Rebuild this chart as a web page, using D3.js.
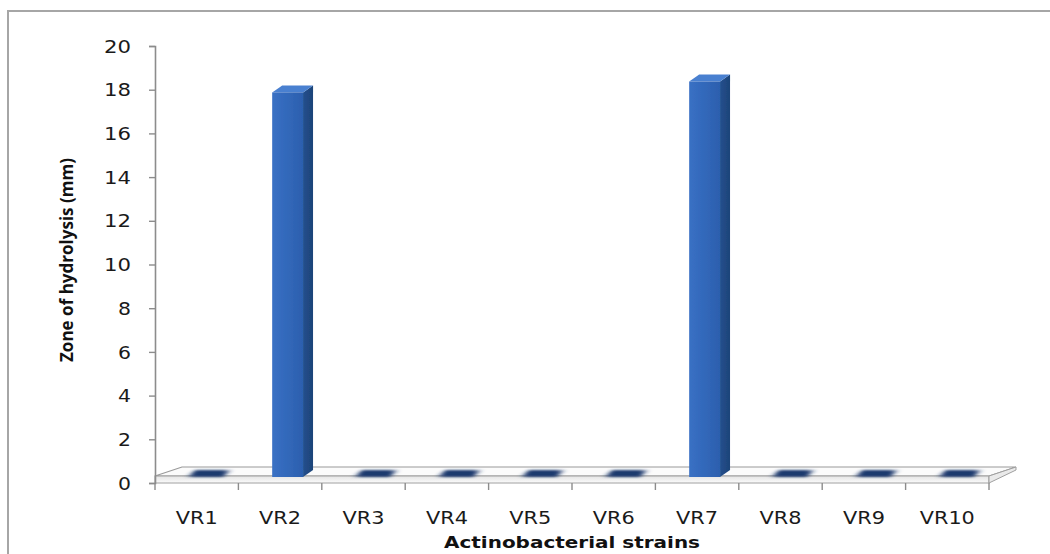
<!DOCTYPE html>
<html>
<head>
<meta charset="utf-8">
<script src="https://cdn.jsdelivr.net/npm/d3@7"></script>
<style>
  html, body { margin: 0; padding: 0; background: #fff; }
  svg { display: block; }
</style>
</head>
<body>
<svg id="chart" width="1050" height="554"></svg>
<script>
// Zone of hydrolysis per actinobacterial strain
const strains = ["VR1", "VR2", "VR3", "VR4", "VR5", "VR6", "VR7", "VR8", "VR9", "VR10"];
const zoneMm = [0, 17.6, 0, 0, 0, 0, 18.1, 0, 0, 0];
const yTicks = [0, 2, 4, 6, 8, 10, 12, 14, 16, 18, 20];

const svg = d3.select("#chart");
const W = 1050, H = 554;

// frame around the chart area
svg.append("rect")
  .attr("x", 8).attr("y", 11)
  .attr("width", W + 20).attr("height", H + 20)
  .attr("fill", "#fff").attr("stroke", "#a6a6a6").attr("stroke-width", 2);

const x = d3.scaleBand().domain(strains).range([155, 989]).padding(0);
const y = d3.scaleLinear().domain([0, 20]).range([483, 46]);

const defs = svg.append("defs");
const grad = (id, stops, x2 = "100%", y2 = "0%") => {
  const g = defs.append("linearGradient").attr("id", id)
    .attr("x1", "0%").attr("y1", "0%").attr("x2", x2).attr("y2", y2);
  stops.forEach(([o, c]) => g.append("stop").attr("offset", o).attr("stop-color", c));
};
grad("front", [["0%", "#3a70c4"], ["45%", "#3269bb"], ["100%", "#2c5fae"]]);
grad("side", [["0%", "#24508e"], ["100%", "#1d4378"]]);
grad("floorFront", [["0%", "#e4e4e4"], ["100%", "#fbfbfb"]], "0%", "100%");
grad("blob", [["0%", "rgba(31,58,110,0.1)"], ["18%", "#1f3a6e"], ["80%", "#1f3a6e"], ["100%", "rgba(31,58,110,0.1)"]]);
defs.append("filter").attr("id", "soft")
  .attr("x", "-30%").attr("y", "-80%").attr("width", "160%").attr("height", "260%")
  .append("feGaussianBlur").attr("stdDeviation", "2.6 1.1");
defs.append("filter").attr("id", "soft2")
  .append("feGaussianBlur").attr("stdDeviation", 0.5);

// floor slab
const fL = x.range()[0], fR = x.range()[1];
const floorDx = 27, floorTop = 467, floorFrontTop = 476, floorBottom = y(0);
svg.append("path")
  .attr("d", `M${fL},${floorFrontTop} L${fL + floorDx},${floorTop} L${fR + floorDx},${floorTop} L${fR},${floorFrontTop} Z`)
  .attr("fill", "#fbfbfb").attr("stroke", "#9a9a9a").attr("stroke-width", 1.2);
svg.append("path")
  .attr("d", `M${fL},${floorFrontTop} L${fR},${floorFrontTop} L${fR},${floorBottom} L${fL},${floorBottom} Z`)
  .attr("fill", "url(#floorFront)").attr("stroke", "#a0a0a0").attr("stroke-width", 1.2);
svg.append("path")
  .attr("d", `M${fR},${floorBottom} L${fR + floorDx},${floorTop + 3} L${fR + floorDx},${floorTop} L${fR},${floorFrontTop} Z`)
  .attr("fill", "#eaeaea").attr("stroke", "#a0a0a0").attr("stroke-width", 1);

// column geometry (front face plane sits slightly behind the axis)
const baseShift = 6;
const dX = 10, dY = -7;
const bx0 = d => x(d.s) + x.bandwidth() * 0.405;
const bw = x.bandwidth() * 0.37;
const data = strains.map((s, i) => ({ s, v: zoneMm[i] }));

const bars = svg.append("g");
data.forEach(d => {
  const x0 = bx0(d), x1 = x0 + bw;
  const yb = y(0) - baseShift;
  const yt = y(d.v) - baseShift;
  const g = bars.append("g");
  if (d.v > 0) {
    g.append("path").attr("filter", "url(#soft2)")
      .attr("d", `M${x1},${yb} L${x1 + dX},${yb + dY} L${x1 + dX},${yt + dY} L${x1},${yt} Z`)
      .attr("fill", "url(#side)");
    g.append("path").attr("filter", "url(#soft2)")
      .attr("d", `M${x0},${yt} L${x0 + dX},${yt + dY} L${x1 + dX},${yt + dY} L${x1},${yt} Z`)
      .attr("fill", "#4a80d0");
    g.append("rect").attr("filter", "url(#soft2)")
      .attr("x", x0).attr("y", yt).attr("width", bw).attr("height", yb - yt)
      .attr("fill", "url(#front)");
  } else {
    // zero-height column: only its flat top shows on the floor
    g.append("path").attr("filter", "url(#soft)")
      .attr("d", `M${x0 - 3},${yb} L${x0 + dX - 3},${yb + dY} L${x1 + dX + 3},${yb + dY} L${x1 + 3},${yb} Z`)
      .attr("fill", "url(#blob)");
  }
});

// value axis
const yAxis = svg.append("g").attr("transform", `translate(${fL},0)`)
  .call(d3.axisLeft(y).tickValues(yTicks).tickSize(6).tickFormat(d3.format("d")));
yAxis.select(".domain").attr("stroke", "#8c8c8c").attr("stroke-width", 1.6);
yAxis.selectAll(".tick line").attr("stroke", "#8c8c8c").attr("stroke-width", 1.4);
yAxis.selectAll(".tick text")
  .attr("x", -24).attr("dy", "0.36em")
  .attr("font-family", "'DejaVu Sans', Verdana, sans-serif")
  .attr("font-size", 17).attr("fill", "#1a1a1a")
  .attr("textLength", d => (d >= 10 ? 27 : 13)).attr("lengthAdjust", "spacingAndGlyphs");

// category axis (ticks between columns)
const xAxis = svg.append("g").attr("transform", `translate(0,${floorBottom})`);
const bounds = strains.map(s => x(s)).concat([fR]);
xAxis.selectAll("line.t").data(bounds).join("line")
  .attr("x1", d => d).attr("x2", d => d).attr("y1", 0).attr("y2", 7)
  .attr("stroke", "#8c8c8c").attr("stroke-width", 1.4);
xAxis.selectAll("text").data(strains).join("text")
  .attr("x", d => x(d) + x.bandwidth() / 2).attr("y", 41)
  .attr("text-anchor", "middle")
  .attr("font-family", "'DejaVu Sans', Verdana, sans-serif")
  .attr("font-size", 17.5).attr("fill", "#1a1a1a")
  .attr("textLength", d => (d.length > 3 ? 55 : 42)).attr("lengthAdjust", "spacingAndGlyphs")
  .text(d => d);

// axis titles
svg.append("text")
  .attr("x", (fL + fR) / 2).attr("y", 548)
  .attr("text-anchor", "middle")
  .attr("font-family", "'DejaVu Sans', Verdana, sans-serif")
  .attr("font-weight", "bold").attr("font-size", 16.5).attr("fill", "#111")
  .attr("textLength", 256).attr("lengthAdjust", "spacingAndGlyphs")
  .text("Actinobacterial strains");

svg.append("text")
  .attr("transform", "translate(73,260) rotate(-90)")
  .attr("text-anchor", "middle")
  .attr("font-family", "'Liberation Sans Narrow', 'Open Sans', sans-serif")
  .attr("font-weight", "bold").attr("font-size", 18).attr("fill", "#111")
  .attr("textLength", 204).attr("lengthAdjust", "spacingAndGlyphs")
  .text("Zone of hydrolysis (mm)");
</script>
</body>
</html>
